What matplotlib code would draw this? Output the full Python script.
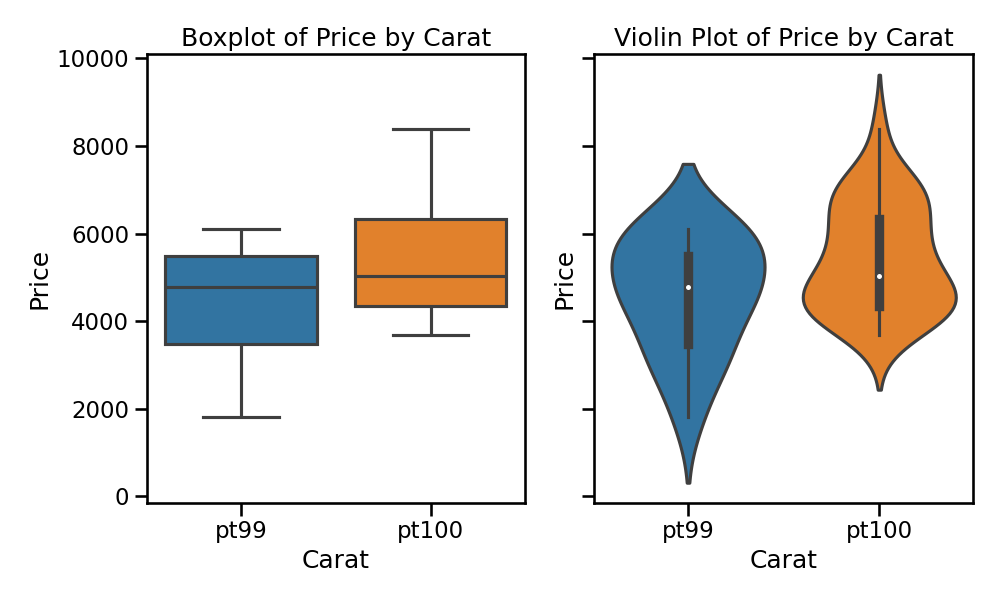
import matplotlib
matplotlib.use("Agg")
import matplotlib.pyplot as plt
import seaborn as sns
import numpy as np
import pandas as pd

# prices (box stats and violin outlines)
carats = ["pt99", "pt100"]
colors = ["#1f77b4", "#ff7f0e"]
pt99_prices = [1800, 2675, 3110, 3480, 3480, 4440, 4445, 4450, 4780,
               4780, 5390, 5480, 5480, 6100, 6100, 6100, 6100]
pt100_prices = [3680, 4165, 4165, 4170, 4170, 4170, 4170, 4340, 4340, 4340,
                4845, 4850, 4860, 4960, 4970, 5110, 5440, 5630, 5925, 6000,
                6045, 6205, 6385, 6965, 6965, 6965, 7000, 7060, 7095, 8380]

df = pd.DataFrame({
    "Carat": ["pt99"] * len(pt99_prices) + ["pt100"] * len(pt100_prices),
    "Price": pt99_prices + pt100_prices,
})

sns.set_context("talk")
plt.rcParams['font.family'] = ['DejaVu Sans']

gray = "#3f3f3f"
lw = 2.25

fig, (ax1, ax2) = plt.subplots(1, 2, figsize=(10, 6), dpi=100, sharey=True)

sns.boxplot(data=df, x="Carat", y="Price", hue="Carat", order=carats,
            hue_order=carats, palette=colors, saturation=0.75, legend=False,
            linewidth=lw, linecolor=gray, ax=ax1)
ax1.set_title("Boxplot of Price by Carat")

sns.violinplot(data=df, x="Carat", y="Price", hue="Carat", order=carats,
               hue_order=carats, palette=colors, saturation=0.75, legend=False,
               linewidth=lw, linecolor=gray, inner=None, ax=ax2)

# inner mini box plot, drawn the old seaborn way
for i, prices in enumerate([pt99_prices, pt100_prices]):
    p = np.asarray(prices)
    q25, q50, q75 = np.percentile(p, [25, 50, 75])
    lim = 1.5 * (q75 - q25)
    lo = p[p >= q25 - lim].min()
    hi = p[p <= q75 + lim].max()
    ax2.plot([i, i], [lo, hi], color=gray, linewidth=lw, zorder=2)
    ax2.plot([i, i], [q25, q75], color=gray, linewidth=lw * 3, zorder=2)
    ax2.scatter(i, q50, s=(lw * 2) ** 2, color="white", edgecolor=gray,
                linewidth=lw * 0.4, zorder=3)

ax2.set_title("Violin Plot of Price by Carat")
ax2.set_ylabel("Price")
ax2.yaxis.label.set_visible(True)

plt.tight_layout()
plt.savefig("out.png")
